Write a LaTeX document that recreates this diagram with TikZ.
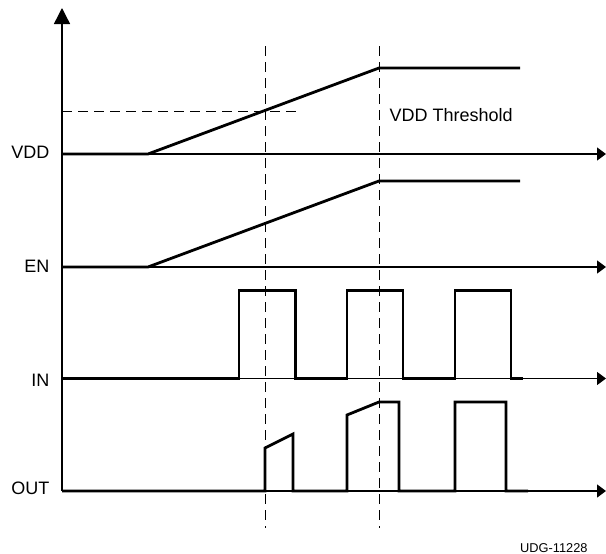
\documentclass[tikz,border=0pt]{standalone}
\usepackage{fontspec}
\setmainfont{Liberation Sans}
\usetikzlibrary{arrows.meta}
\begin{document}
\begin{tikzpicture}[x=1pt,y=-1pt,
  axisline/.style={line width=1.4pt,black},
  wave/.style={line width=2.8pt,black},
  guide/.style={line width=1pt,black,dash pattern=on 10pt off 6pt},
  sig/.style={font=\fontsize{18}{21}\selectfont,inner sep=0pt,anchor=base east},
  haxis/.style={axisline,-{Triangle[length=9pt,width=13pt]}}]
\useasboundingbox (0,0) rectangle (606,554);
% axis coordinates
\coordinate (o) at (62,491);
\coordinate (ytop) at (62,8);
\foreach \n/\y in {vdd/154,en/267,in/378.5,out/491}{
  \coordinate (\n L) at (62,\y);
  \coordinate (\n R) at (606,\y);
}
% guides
\coordinate (g1t) at (265,46); \coordinate (g1b) at (265,528);
\coordinate (g2t) at (379,46); \coordinate (g2b) at (379,528);
\coordinate (thL) at (62,111); \coordinate (thR) at (296,111);
\draw[guide] (g1t) -- (g1b);
\draw[guide] (g2t) -- (g2b);
\draw[guide] (thL) -- (thR);
% axes
\draw[axisline,-{Triangle[length=16pt,width=16pt]}] (o) -- (ytop);
\foreach \n in {vdd,en,in,out}{ \draw[haxis] (\n L) -- (\n R); }
% waveforms
\draw[wave] (vddL) -- (148,154) -- (379,68) -- (520,68);
\draw[wave] (enL) -- (148,267) -- (379,181) -- (520,181);
\draw[wave] (inL) -- (239,378.5) -- (239,290.5) -- (295.5,290.5) -- (295.5,378.5)
  -- (347,378.5) -- (347,290.5) -- (403,290.5) -- (403,378.5)
  -- (455,378.5) -- (455,290.5) -- (511,290.5) -- (511,378.5) -- (523,378.5);
\draw[wave] (outL) -- (265,491) -- (265,448) -- (293,434) -- (293,491)
  -- (347,491) -- (347,415) -- (379,402) -- (399,402) -- (399,491)
  -- (455,491) -- (455,402) -- (506,402) -- (506,491) -- (528,491);
% labels
\node[sig] (lvdd) at (49.5,158.3) {VDD};
\node[sig] (len) at (49.5,272.7) {EN};
\node[sig] (lin) at (49.5,386) {IN};
\node[sig] (lout) at (49.5,494) {OUT};
\node[font=\fontsize{18}{21}\selectfont,inner sep=0pt,anchor=base west] (thr) at (389.5,121.7) {VDD Threshold};
\node[font=\fontsize{12.8}{15}\selectfont,inner sep=0pt,anchor=base west] (udg) at (520,552.5) {UDG-11228};
\end{tikzpicture}
\end{document}
